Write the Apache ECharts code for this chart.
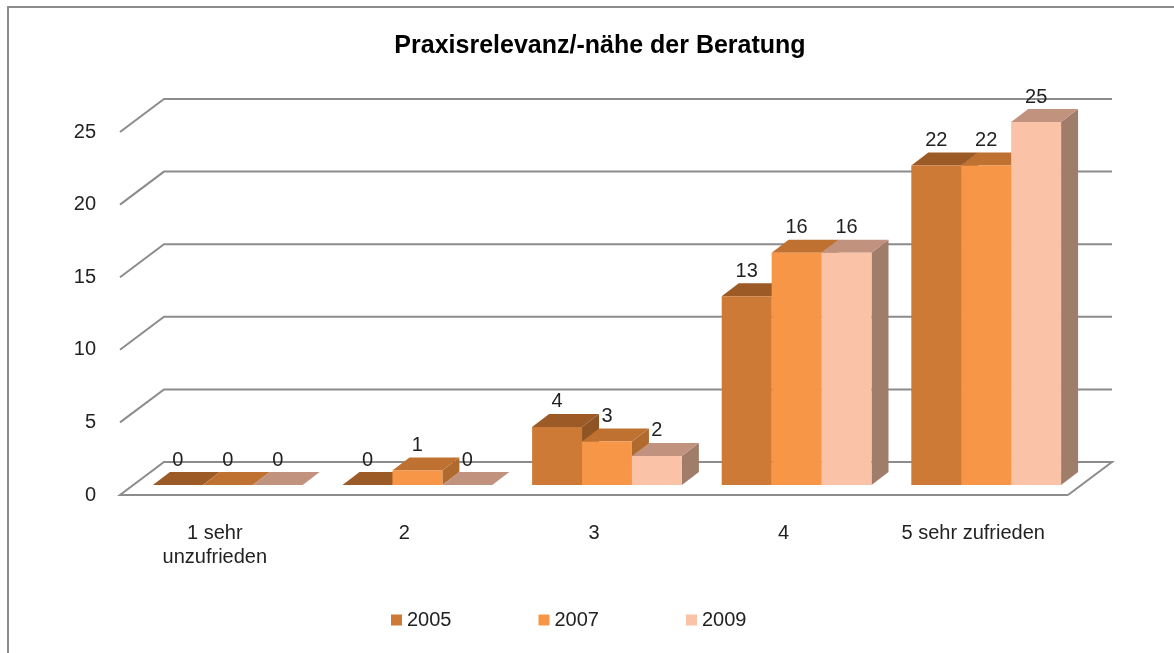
<!DOCTYPE html>
<html>
<head>
<meta charset="utf-8">
<script src="https://cdn.jsdelivr.net/npm/echarts@6/dist/echarts.min.js"></script>
<style>
html,body{margin:0;padding:0;background:#fff}
#wrap{position:relative;width:1174px;height:653px;overflow:hidden}
#main{width:1174px;height:653px}
#frame{position:absolute;left:7px;top:6px;right:-10px;bottom:-10px;border-left:2px solid #8c8c8c;border-top:2px solid #8c8c8c;pointer-events:none}
</style>
</head>
<body>
<div id="wrap"><div id="main"></div><div id="frame"></div></div>
<script>
// data
var categories = ['1 sehr\nunzufrieden', '2', '3', '4', '5 sehr zufrieden'];
var years = ['2005', '2007', '2009'];
var v2005 = [0, 0, 4, 13, 22];
var v2007 = [0, 1, 3, 16, 22];
var v2009 = [0, 0, 2, 16, 25];
var yTicks = [0, 5, 10, 15, 20, 25];

// front / top / side colour of each year
var faceColors = [
  {front: '#CD7A37', top: '#9C5A27', side: '#8F5424'},
  {front: '#F79646', top: '#BE7131', side: '#B06A2E'},
  {front: '#FAC2A7', top: '#C1937E', side: '#A07C6B'}
];

var DX = 17, DY = -13;   // depth of one bar
var BX = 13, BY = -10;   // bars stand a bit behind the floor front edge
var WX = 44, WY = -33;   // full depth of floor / walls
var FONT = '"Liberation Sans", Arial, sans-serif';

function barSeries(name, values, idx) {
  var c = faceColors[idx];
  return {
    type: 'custom',
    name: name,
    z: 2,
    itemStyle: {color: c.front},
    data: values.map(function (v, i) { return [i, v]; }),
    renderItem: function (params, api) {
      var cat = api.value(0), val = api.value(1);
      var top = api.coord([cat, val]);
      var base = api.coord([cat, 0]);
      var band = api.size([1, 0])[0];
      var groupW = band * 0.79, w = groupW / 3;
      var x0 = base[0] - groupW / 2 + idx * w + BX;
      var x1 = x0 + w;
      var y0 = base[1] + BY, y1 = top[1] + BY;
      return {
        type: 'group',
        children: [
          {type: 'polygon', shape: {points: [[x1, y0], [x1 + DX, y0 + DY], [x1 + DX, y1 + DY], [x1, y1]]}, style: {fill: c.side}},
          {type: 'polygon', shape: {points: [[x0, y1], [x1, y1], [x1 + DX, y1 + DY], [x0 + DX, y1 + DY]]}, style: {fill: c.top}},
          {type: 'rect', shape: {x: x0, y: y1, width: w, height: y0 - y1}, style: {fill: c.front}},
          {type: 'text', x: (x0 + x1) / 2, y: y1 - 25, style: {text: String(val), align: 'center', verticalAlign: 'middle', fontSize: 20, fontFamily: FONT, fill: '#222'}}
        ]
      };
    }
  };
}

// walls and floor
var wallSeries = {
  type: 'custom',
  silent: true,
  z: 1,
  data: yTicks.map(function (t) { return [0, t]; }),
  renderItem: function (params, api) {
    var cs = params.coordSys;
    var y = api.coord([0, api.value(1)])[1];
    var L = cs.x, R = cs.x + cs.width;
    var pts;
    if (api.value(1) === 0) {
      pts = [[R, y], [L, y], [L + WX, y + WY], [R + WX, y + WY], [R, y]];
    } else {
      pts = [[L, y], [L + WX, y + WY], [R + WX, y + WY]];
    }
    return {type: 'polyline', shape: {points: pts}, style: {stroke: '#8c8c8c', lineWidth: 2, fill: null}};
  }
};

var chart = echarts.init(document.getElementById('main'));
chart.setOption({
  animation: false,
  backgroundColor: '#fff',
  title: {
    text: 'Praxisrelevanz/-nähe der Beratung',
    left: 595,
    top: 29,
    textAlign: 'center',
    textStyle: {fontSize: 25, fontWeight: 'bold', fontFamily: FONT, color: '#000'}
  },
  legend: {
    data: years,
    left: 391,
    top: 610,
    padding: 0,
    icon: 'rect',
    itemWidth: 11,
    itemHeight: 11,
    itemGap: 87,
    textStyle: {fontSize: 20, fontFamily: FONT, color: '#222'}
  },
  grid: {left: 120, right: 106, top: 132, bottom: 158},
  xAxis: {
    type: 'category',
    data: categories,
    axisLine: {show: false},
    axisTick: {show: false},
    splitLine: {show: false},
    axisLabel: {margin: 26, fontSize: 20, lineHeight: 24, fontFamily: FONT, color: '#222', interval: 0}
  },
  yAxis: {
    type: 'value',
    min: 0,
    max: 25,
    interval: 5,
    axisLine: {show: false},
    axisTick: {show: false},
    splitLine: {show: false},
    axisLabel: {margin: 24, fontSize: 20, fontFamily: FONT, color: '#222'}
  },
  series: [
    wallSeries,
    barSeries(years[0], v2005, 0),
    barSeries(years[1], v2007, 1),
    barSeries(years[2], v2009, 2)
  ]
});
</script>
</body>
</html>
